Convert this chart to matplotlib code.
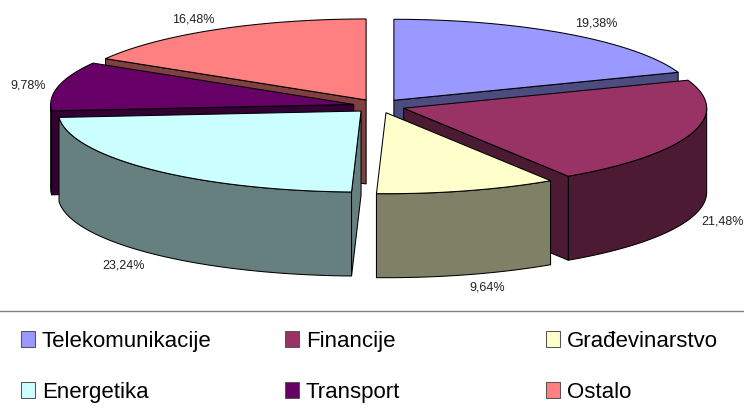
import numpy as np
import matplotlib.pyplot as plt
from matplotlib.patches import Polygon, Rectangle

plt.rcParams['font.family'] = ['Liberation Sans', 'DejaVu Sans']

categories = ['Telekomunikacije', 'Financije', 'Građevinarstvo',
              'Energetika', 'Transport', 'Ostalo']
shares = [19.38, 21.48, 9.64, 23.24, 9.78, 16.48]
top_colors = ['#9999FF', '#993366', '#FFFFCC', '#CCFFFF', '#660066', '#FF8080']
side_colors = ['#4C4C80', '#4D1A33', '#808066', '#668080', '#330033', '#804040']

# layout, all in pixels of the 744x409 picture
center = (379, 106)
rx, ry = 303, 81
depth = 84
explode = 26
label_pos = [(596, 24), (723, 222), (487, 287), (124, 266), (28, 85), (193, 19)]
draw_order = [5, 0, 4, 1, 3, 2]
legend_x = [21, 285, 546]
legend_y = [347, 398]

fig = plt.figure(figsize=(7.44, 4.09), dpi=100)
ax = fig.add_axes([0, 0, 1, 1])
ax.set_xlim(0, 744)
ax.set_ylim(409, 0)
ax.axis('off')


def point(ox, oy, a):
    return ox + rx * np.sin(a), oy - ry * np.cos(a)


edges = np.radians(np.cumsum([0] + shares) / sum(shares) * 360)

for i in draw_order:
    a0, a1 = edges[i], edges[i + 1]
    mid = (a0 + a1) / 2
    ox = center[0] + explode * np.sin(mid)
    oy = center[1] - explode * ry / rx * np.cos(mid)
    angles = np.linspace(a0, a1, 80)
    arc = [point(ox, oy, a) for a in angles]

    # outer wall, only the part facing the viewer
    front = angles[(angles >= np.pi / 2) & (angles <= 3 * np.pi / 2)]
    if len(front) > 1:
        upper = [point(ox, oy, a) for a in front]
        lower = [(x, y + depth) for x, y in upper[::-1]]
        ax.add_patch(Polygon(upper + lower, fc=side_colors[i], ec='black', lw=0.75, joinstyle='round'))

    # cut faces that can be seen
    cuts = []
    if a0 > np.pi:
        cuts.append(a0)
    if a1 < np.pi:
        cuts.append(a1)
    for a in cuts:
        x, y = point(ox, oy, a)
        face = [(ox, oy), (x, y), (x, y + depth), (ox, oy + depth)]
        ax.add_patch(Polygon(face, fc=side_colors[i], ec='black', lw=0.75))

    ax.add_patch(Polygon([(ox, oy)] + arc, fc=top_colors[i], ec='black', lw=0.75))

for share, (x, y) in zip(shares, label_pos):
    ax.text(x, y, f'{share:.2f}'.replace('.', ',') + '%', fontsize=9, color='#222222',
            ha='center', va='center')

ax.plot([0, 744], [311, 311], color='#808080', lw=1)

for i, name in enumerate(categories):
    x = legend_x[i % 3]
    y = legend_y[i // 3]
    ax.add_patch(Rectangle((x, y - 16), 14, 16, fc=top_colors[i], ec='#555555', lw=0.75))
    ax.text(x + 21, y, name, fontsize=16, color='black', ha='left', va='baseline')

fig.savefig('out.png', dpi=100)
